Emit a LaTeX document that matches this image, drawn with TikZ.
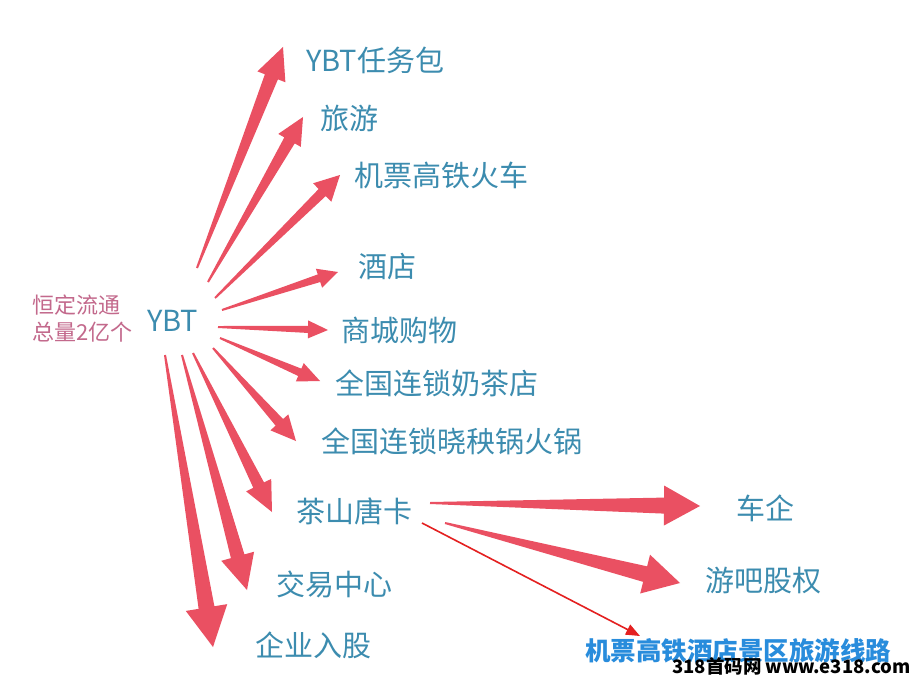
\documentclass[tikz,border=0pt]{standalone}
\usepackage{fontspec}
\setmainfont{Noto Sans CJK SC}
\usetikzlibrary{calc,arrows.meta}
\definecolor{lblue}{RGB}{60,140,175}
\definecolor{bblue}{RGB}{40,140,220}
\definecolor{notepink}{RGB}{195,105,140}
\definecolor{arrred}{RGB}{234,80,98}
\definecolor{thinred}{RGB}{228,32,32}
\newcommand\taperarrow[5]{%
  \coordinate (hb) at ($(#2)!#3!(#1)$);
  \fill[arrowfill] ($(#1)!1pt!90:(#2)$) -- ($(hb)!#5!90:(#2)$) -- ($(hb)!#4!90:(#2)$) -- (#2)
    -- ($(hb)!#4!-90:(#2)$) -- ($(hb)!#5!-90:(#2)$) -- ($(#1)!1pt!-90:(#2)$) -- cycle;}
\begin{document}
\begin{tikzpicture}[x=1pt,y=-1pt,
  arrowfill/.style={fill=arrred},
  lbl/.style={anchor=west,inner sep=0pt,text=lblue,font=\fontsize{29}{31}\selectfont},
  note/.style={anchor=west,inner sep=0pt,text=notepink,align=left,font=\fontsize{22}{27}\selectfont}]
\useasboundingbox[fill=white] (0,0) rectangle (918,682);
% texts
\node[note] (note) at (32,319) {恒定流通\\总量2亿个};
\node[lbl] (ybt) at (147,321) {YBT};
\node[lbl] (t1) at (306,60) {YBT任务包};
\node[lbl] (t2) at (320,118) {旅游};
\node[lbl] (t3) at (354,175) {机票高铁火车};
\node[lbl] (t4) at (358,267) {酒店};
\node[lbl] (t5) at (341,330) {商城购物};
\node[lbl] (t6) at (335,383) {全国连锁奶茶店};
\node[lbl] (t7) at (321,441) {全国连锁晓秧锅火锅};
\node[lbl] (t8) at (296,511) {茶山唐卡};
\node[lbl] (t9) at (276,584) {交易中心};
\node[lbl] (t10) at (255,645) {企业入股};
\node[lbl] (t11) at (736,508) {车企};
\node[lbl] (t12) at (705,581) {游吧股权};
\node[anchor=west,inner sep=0pt,text=bblue,font=\fontsize{25.5}{27}\selectfont\bfseries] (t13) at (585,651) {机票高铁酒店景区旅游线路};
\node[anchor=west,inner sep=0pt,text=black,font=\fontsize{18.5}{20}\selectfont\bfseries] (wm) at (672,666) {318首码网 www.e318.com};
% arrow starts and tips
\coordinate (s1) at (197,268);  \coordinate (e1) at (283,47);
\coordinate (s2) at (208,282);  \coordinate (e2) at (303,117);
\coordinate (s3) at (215,298);  \coordinate (e3) at (340,175);
\coordinate (s4) at (222,310);  \coordinate (e4) at (338,272);
\coordinate (s5) at (218,327);  \coordinate (e5) at (328,330);
\coordinate (s6) at (220,338);  \coordinate (e6) at (320,381);
\coordinate (s7) at (213,348);  \coordinate (e7) at (296,441);
\coordinate (s8) at (193,353);  \coordinate (e8) at (272,512);
\coordinate (s9) at (182,355);  \coordinate (e9) at (247,590);
\coordinate (s10) at (165,355); \coordinate (e10) at (213,647);
\coordinate (s11) at (430,503); \coordinate (e11) at (700,506);
\coordinate (s12) at (445,523); \coordinate (e12) at (680,583);
\coordinate (s13) at (422,523); \coordinate (e13) at (640,636);
\taperarrow{s1}{e1}{32pt}{15pt}{7pt}
\taperarrow{s2}{e2}{27pt}{13pt}{6pt}
\taperarrow{s3}{e3}{25pt}{13pt}{5pt}
\taperarrow{s4}{e4}{20pt}{10pt}{4pt}
\taperarrow{s5}{e5}{20pt}{9pt}{3.5pt}
\taperarrow{s6}{e6}{22pt}{10pt}{4pt}
\taperarrow{s7}{e7}{25pt}{12pt}{5pt}
\taperarrow{s8}{e8}{30pt}{14pt}{6pt}
\taperarrow{s9}{e9}{35pt}{17pt}{7pt}
\taperarrow{s10}{e10}{40pt}{21pt}{8pt}
\taperarrow{s11}{e11}{36pt}{20pt}{8pt}
\taperarrow{s12}{e12}{36pt}{20pt}{8pt}
\draw[thinred,line width=1.6pt,-{Triangle[length=14pt,width=11pt]}] (s13) -- (e13);
\end{tikzpicture}
\end{document}
